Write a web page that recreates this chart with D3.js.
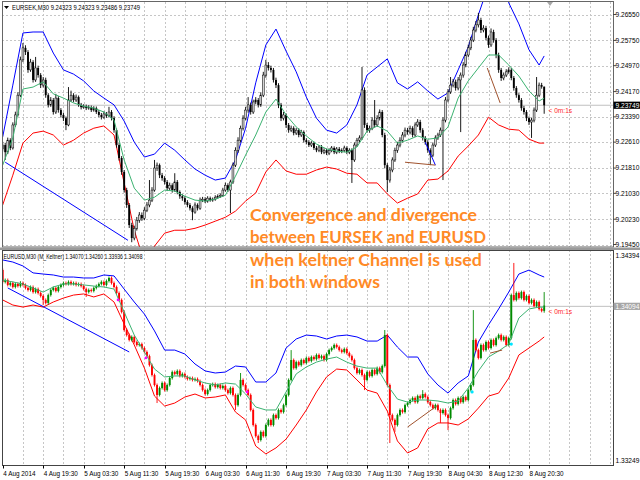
<!DOCTYPE html>
<html>
<head>
<meta charset="utf-8">
<script src="https://cdn.jsdelivr.net/npm/d3@7"></script>
<style>
  html, body { margin: 0; padding: 0; background: #fff; }
  svg { display: block; }
</style>
</head>
<body>
<div id="chart"></div>
<script>
// EURSEK M30 (haut) + EURUSD M30 M_Keltner (bas), canaux de Keltner

const timeLabels = ["4 Aug 2014", "4 Aug 19:30", "5 Aug 03:30", "5 Aug 11:30", "5 Aug 19:30",
  "6 Aug 03:30", "6 Aug 11:30", "6 Aug 19:30", "7 Aug 03:30", "7 Aug 11:30", "7 Aug 19:30",
  "8 Aug 04:30", "8 Aug 12:30", "8 Aug 20:30"]
const barsPerLabel = 16

const sekTicks = [9.26550, 9.25750, 9.24970, 9.24170, 9.23390, 9.22610, 9.21810, 9.21030, 9.20230, 9.19450]
const usdTicks = [1.34394, 1.33249]
const sekLast = 9.23749
const usdLast = 1.34094

const sekHeader = "EURSEK,M30  9.24323 9.24323 9.23486 9.23749"
const usdHeader = "EURUSD,M30 (M_Keltner) 1.34070 1.34260 1.33936 1.34098"
const note = ["Convergence and divergence", "between EURSEK and EURUSD",
  "when keltner Channel is used", "in both windows"]

// EURSEK OHLC (open = clôture précédente)
const sekFirstOpen = 9.2240
const sekClose = [9.2252,9.2230,9.2267,9.2243,9.2314,9.2345,9.2406,9.2515,9.2552,9.2539,
  9.2484,9.2508,9.2453,9.2490,9.2468,9.2437,9.2453,9.2406,9.2376,9.2391,
  9.2354,9.2397,9.2360,9.2345,9.2335,9.2314,9.2391,9.2406,9.2391,9.2400,
  9.2376,9.2369,9.2372,9.2366,9.2369,9.2360,9.2366,9.2354,9.2345,9.2338,
  9.2348,9.2342,9.2354,9.2335,9.2298,9.2252,9.2212,9.2169,9.2113,9.2067,
  9.2005,9.1965,9.1995,9.2020,9.2036,9.2026,9.2051,9.2067,9.2082,9.2113,
  9.2181,9.2190,9.2159,9.2150,9.2138,9.2119,9.2128,9.2113,9.2138,9.2107,
  9.2094,9.2088,9.2076,9.2067,9.2057,9.2045,9.2067,9.2057,9.2082,9.2085,
  9.2079,9.2088,9.2082,9.2085,9.2091,9.2094,9.2097,9.2113,9.2128,9.2113,
  9.2138,9.2190,9.2236,9.2267,9.2304,9.2335,9.2360,9.2376,9.2354,9.2385,
  9.2391,9.2376,9.2406,9.2468,9.2499,9.2490,9.2484,9.2453,9.2437,9.2376,
  9.2335,9.2345,9.2314,9.2298,9.2304,9.2289,9.2298,9.2283,9.2292,9.2267,
  9.2261,9.2252,9.2258,9.2243,9.2236,9.2246,9.2230,9.2236,9.2227,9.2236,
  9.2243,9.2230,9.2240,9.2233,9.2236,9.2243,9.2230,9.2236,9.2206,9.2252,
  9.2267,9.2274,9.2422,9.2314,9.2298,9.2304,9.2329,9.2314,9.2335,9.2354,
  9.2283,9.2190,9.2144,9.2175,9.2206,9.2236,9.2252,9.2267,9.2283,9.2298,
  9.2292,9.2304,9.2283,9.2314,9.2323,9.2298,9.2274,9.2261,9.2236,9.2221,
  9.2252,9.2274,9.2283,9.2298,9.2329,9.2391,9.2416,9.2437,9.2447,9.2428,
  9.2453,9.2468,9.2499,9.2530,9.2552,9.2576,9.2607,9.2623,9.2638,9.2607,
  9.2613,9.2583,9.2561,9.2601,9.2576,9.2530,9.2484,9.2459,9.2468,9.2478,
  9.2484,9.2459,9.2428,9.2406,9.2391,9.2366,9.2354,9.2335,9.2323,9.2329,
  9.2360,9.2406,9.2437,9.24323,9.23749]
const sekHigh = [9.2262,9.2259,9.2275,9.2273,9.2322,9.2355,9.2415,9.2525,9.2567,9.2560,
  9.2545,9.2518,9.2514,9.2524,9.2497,9.2474,9.2462,9.2460,9.2412,9.2400,
  9.2397,9.2410,9.2403,9.2366,9.2352,9.2340,9.2431,9.2420,9.2412,9.2408,
  9.2405,9.2382,9.2378,9.2377,9.2375,9.2374,9.2372,9.2371,9.2360,9.2351,
  9.2356,9.2354,9.2370,9.2360,9.2341,9.2303,9.2258,9.2218,9.2175,9.2120,
  9.2073,9.2012,9.2003,9.2030,9.2045,9.2044,9.2060,9.2076,9.2144,9.2122,
  9.2206,9.2198,9.2195,9.2166,9.2156,9.2144,9.2136,9.2134,9.2165,9.2144,
  9.2112,9.2100,9.2094,9.2082,9.2073,9.2063,9.2075,9.2072,9.2090,9.2092,
  9.2091,9.2094,9.2093,9.2090,9.2097,9.2100,9.2103,9.2120,9.2136,9.2134,
  9.2145,9.2198,9.2245,9.2276,9.2312,9.2344,9.2370,9.2400,9.2383,9.2392,
  9.2400,9.2397,9.2415,9.2478,9.2515,9.2508,9.2497,9.2490,9.2460,9.2443,
  9.2382,9.2354,9.2350,9.2320,9.2312,9.2310,9.2305,9.2304,9.2299,9.2297,
  9.2273,9.2267,9.2264,9.2263,9.2249,9.2252,9.2252,9.2242,9.2241,9.2242,
  9.2249,9.2248,9.2246,9.2246,9.2242,9.2250,9.2248,9.2242,9.2242,9.2260,
  9.2274,9.2282,9.2493,9.2430,9.2320,9.2312,9.2338,9.2391,9.2344,9.2362,
  9.2360,9.2290,9.2196,9.2184,9.2214,9.2244,9.2262,9.2276,9.2292,9.2306,
  9.2305,9.2312,9.2310,9.2322,9.2332,9.2330,9.2304,9.2280,9.2267,9.2242,
  9.2260,9.2282,9.2290,9.2306,9.2338,9.2400,9.2425,9.2462,9.2456,9.2454,
  9.2462,9.2476,9.2508,9.2540,9.2562,9.2586,9.2617,9.2635,9.2660,9.2645,
  9.2622,9.2620,9.2590,9.2612,9.2608,9.2582,9.2537,9.2490,9.2476,9.2486,
  9.2492,9.2490,9.2465,9.2434,9.2412,9.2397,9.2373,9.2360,9.2340,9.2336,
  9.2368,9.2462,9.2445,9.2444,9.24323]
const sekLow = [9.2232,9.2206,9.2224,9.2236,9.2238,9.2308,9.2340,9.2400,9.2508,9.2530,
  9.2475,9.2478,9.2445,9.2447,9.2460,9.2428,9.2430,9.2398,9.2368,9.2370,
  9.2346,9.2348,9.2352,9.2337,9.2326,9.2298,9.2310,9.2385,9.2384,9.2385,
  9.2370,9.2362,9.2364,9.2360,9.2361,9.2354,9.2355,9.2348,9.2338,9.2331,
  9.2333,9.2336,9.2337,9.2328,9.2290,9.2244,9.2204,9.2160,9.2105,9.2058,
  9.1996,9.1952,9.1958,9.1988,9.2012,9.2018,9.2020,9.2045,9.2060,9.2076,
  9.2108,9.2172,9.2150,9.2142,9.2130,9.2110,9.2112,9.2105,9.2108,9.2100,
  9.2086,9.2080,9.2068,9.2060,9.2050,9.2020,9.2040,9.2050,9.2052,9.2076,
  9.2073,9.2074,9.2077,9.2077,9.2080,9.2086,9.2089,9.2092,9.2108,9.2107,
  9.2042,9.2132,9.2184,9.2228,9.2260,9.2297,9.2328,9.2352,9.2346,9.2348,
  9.2378,9.2368,9.2370,9.2400,9.2460,9.2482,9.2476,9.2445,9.2428,9.2366,
  9.2326,9.2328,9.2305,9.2290,9.2292,9.2282,9.2283,9.2276,9.2277,9.2260,
  9.2254,9.2246,9.2246,9.2237,9.2230,9.2230,9.2224,9.2224,9.2221,9.2221,
  9.2230,9.2224,9.2224,9.2227,9.2227,9.2230,9.2224,9.2224,9.2135,9.2200,
  9.2246,9.2260,9.2268,9.2305,9.2290,9.2290,9.2298,9.2306,9.2308,9.2328,
  9.2276,9.2180,9.2107,9.2136,9.2168,9.2200,9.2228,9.2245,9.2260,9.2276,
  9.2284,9.2285,9.2276,9.2277,9.2308,9.2290,9.2266,9.2253,9.2228,9.2190,
  9.2215,9.2246,9.2268,9.2277,9.2144,9.2322,9.2384,9.2410,9.2430,9.2420,
  9.2421,9.2292,9.2460,9.2492,9.2523,9.2545,9.2570,9.2600,9.2615,9.2598,
  9.2600,9.2575,9.2552,9.2555,9.2568,9.2520,9.2475,9.2450,9.2452,9.2462,
  9.2472,9.2452,9.2420,9.2398,9.2383,9.2358,9.2346,9.2326,9.2314,9.2274,
  9.2322,9.2354,9.2400,9.2426,9.23486]

// EURUSD OHLC
const usdFirstOpen = 1.34288
const usdClose = [1.34224,1.34234,1.34208,1.34218,1.34197,1.34213,1.34202,1.34218,1.34208,1.34192,
  1.34181,1.34197,1.34170,1.34186,1.34165,1.34149,1.34128,1.34112,1.34154,1.34181,
  1.34192,1.34176,1.34197,1.34208,1.34218,1.34213,1.34224,1.34213,1.34218,1.34208,
  1.34213,1.34202,1.34186,1.34170,1.34181,1.34176,1.34192,1.34202,1.34213,1.34224,
  1.34208,1.34229,1.34245,1.34218,1.34197,1.34165,1.34128,1.34064,1.33968,1.33941,
  1.33915,1.33931,1.33904,1.33888,1.33893,1.33872,1.33851,1.33829,1.33781,1.33728,
  1.33675,1.33622,1.33659,1.33686,1.33648,1.33675,1.33712,1.33744,1.33734,1.33750,
  1.33723,1.33734,1.33718,1.33707,1.33712,1.33702,1.33707,1.33696,1.33675,1.33648,
  1.33627,1.33648,1.33675,1.33680,1.33664,1.33675,1.33659,1.33670,1.33648,1.33632,
  1.33659,1.33622,1.33568,1.33622,1.33702,1.33675,1.33648,1.33622,1.33542,1.33462,
  1.33403,1.33382,1.33425,1.33403,1.33462,1.33489,1.33462,1.33515,1.33499,1.33542,
  1.33531,1.33568,1.33622,1.33702,1.33808,1.33765,1.33797,1.33781,1.33808,1.33792,
  1.33819,1.33803,1.33824,1.33813,1.33835,1.33819,1.33829,1.33808,1.33840,1.33861,
  1.33872,1.33888,1.33877,1.33861,1.33851,1.33867,1.33845,1.33829,1.33808,1.33765,
  1.33739,1.33755,1.33728,1.33702,1.33744,1.33723,1.33755,1.33734,1.33765,1.33744,
  1.33776,1.33941,1.33675,1.33515,1.33489,1.33462,1.33515,1.33542,1.33531,1.33568,
  1.33579,1.33595,1.33606,1.33584,1.33616,1.33606,1.33627,1.33611,1.33584,1.33568,
  1.33552,1.33568,1.33542,1.33526,1.33542,1.33515,1.33499,1.33552,1.33595,1.33574,
  1.33606,1.33584,1.33611,1.33595,1.33648,1.33675,1.33915,1.33861,1.33819,1.33888,
  1.33861,1.33904,1.33872,1.33915,1.33888,1.33925,1.33941,1.33915,1.33931,1.33888,
  1.33925,1.34154,1.34128,1.34165,1.34138,1.34170,1.34128,1.34149,1.34112,1.34128,
  1.34096,1.34117,1.34080,1.34070,1.34098]
const usdHigh = [1.34296,1.34242,1.34242,1.34226,1.34226,1.34221,1.34221,1.34228,1.34226,1.34216,
  1.34200,1.34205,1.34205,1.34194,1.34194,1.34173,1.34157,1.34136,1.34162,1.34189,
  1.34200,1.34200,1.34205,1.34216,1.34226,1.34226,1.34232,1.34232,1.34226,1.34226,
  1.34221,1.34221,1.34210,1.34194,1.34189,1.34189,1.34200,1.34210,1.34221,1.34232,
  1.34232,1.34237,1.34253,1.34253,1.34226,1.34205,1.34173,1.34136,1.34072,1.33976,
  1.33949,1.33939,1.33939,1.33912,1.33901,1.33901,1.33880,1.33859,1.33837,1.33789,
  1.33736,1.33683,1.33667,1.33694,1.33694,1.33683,1.33720,1.33752,1.33752,1.33758,
  1.33758,1.33742,1.33742,1.33726,1.33720,1.33720,1.33715,1.33715,1.33704,1.33683,
  1.33656,1.33656,1.33683,1.33688,1.33688,1.33683,1.33683,1.33678,1.33678,1.33656,
  1.33667,1.33667,1.33630,1.33630,1.33739,1.33710,1.33683,1.33656,1.33630,1.33550,
  1.33470,1.33411,1.33433,1.33433,1.33470,1.33497,1.33497,1.33523,1.33523,1.33550,
  1.33550,1.33576,1.33630,1.33710,1.33861,1.33816,1.33805,1.33805,1.33816,1.33816,
  1.33827,1.33827,1.33832,1.33832,1.33843,1.33843,1.33837,1.33837,1.33848,1.33869,
  1.33880,1.33896,1.33896,1.33885,1.33869,1.33875,1.33875,1.33853,1.33837,1.33816,
  1.33773,1.33763,1.33763,1.33736,1.33752,1.33752,1.33763,1.33763,1.33773,1.33773,
  1.33784,1.33968,1.33949,1.33683,1.33523,1.33497,1.33523,1.33550,1.33550,1.33576,
  1.33587,1.33603,1.33614,1.33614,1.33624,1.33624,1.33648,1.33635,1.33619,1.33592,
  1.33576,1.33576,1.33576,1.33550,1.33550,1.33550,1.33523,1.33560,1.33603,1.33603,
  1.33614,1.33614,1.33619,1.33619,1.33656,1.33683,1.34074,1.33923,1.33869,1.33896,
  1.33896,1.33912,1.33912,1.33923,1.33923,1.33933,1.33949,1.33949,1.33939,1.33939,
  1.33933,1.34162,1.34325,1.34173,1.34173,1.34178,1.34178,1.34157,1.34157,1.34136,
  1.34136,1.34125,1.34125,1.34088,1.34170]
const usdLow = [1.34216,1.34216,1.34200,1.34200,1.34189,1.34189,1.34194,1.34194,1.34200,1.34184,
  1.34173,1.34173,1.34162,1.34162,1.34157,1.34141,1.34101,1.34104,1.34104,1.34146,
  1.34173,1.34168,1.34168,1.34189,1.34200,1.34205,1.34205,1.34205,1.34205,1.34200,
  1.34200,1.34194,1.34178,1.34144,1.34162,1.34168,1.34168,1.34184,1.34194,1.34205,
  1.34200,1.34200,1.34221,1.34210,1.34189,1.34157,1.34120,1.34056,1.33960,1.33933,
  1.33907,1.33907,1.33896,1.33880,1.33880,1.33864,1.33843,1.33821,1.33773,1.33720,
  1.33667,1.33579,1.33614,1.33651,1.33640,1.33640,1.33667,1.33704,1.33726,1.33726,
  1.33715,1.33715,1.33710,1.33699,1.33699,1.33694,1.33694,1.33688,1.33667,1.33640,
  1.33619,1.33619,1.33640,1.33667,1.33656,1.33656,1.33651,1.33651,1.33640,1.33624,
  1.33624,1.33614,1.33542,1.33560,1.33614,1.33667,1.33640,1.33614,1.33534,1.33454,
  1.33395,1.33366,1.33374,1.33395,1.33395,1.33454,1.33454,1.33454,1.33491,1.33491,
  1.33523,1.33523,1.33560,1.33614,1.33694,1.33757,1.33757,1.33773,1.33773,1.33784,
  1.33784,1.33795,1.33795,1.33805,1.33805,1.33811,1.33811,1.33800,1.33800,1.33832,
  1.33853,1.33864,1.33869,1.33853,1.33843,1.33843,1.33837,1.33821,1.33800,1.33757,
  1.33731,1.33731,1.33720,1.33648,1.33694,1.33715,1.33715,1.33726,1.33726,1.33736,
  1.33736,1.33768,1.33667,1.33366,1.33481,1.33425,1.33454,1.33507,1.33523,1.33523,
  1.33560,1.33571,1.33587,1.33576,1.33576,1.33598,1.33598,1.33603,1.33576,1.33560,
  1.33544,1.33544,1.33534,1.33473,1.33518,1.33507,1.33435,1.33491,1.33544,1.33566,
  1.33566,1.33576,1.33576,1.33587,1.33587,1.33640,1.33667,1.33853,1.33811,1.33811,
  1.33853,1.33853,1.33864,1.33864,1.33880,1.33880,1.33917,1.33907,1.33907,1.33880,
  1.33880,1.33917,1.34120,1.34120,1.34130,1.34130,1.34120,1.34120,1.34104,1.34104,
  1.34088,1.34088,1.34072,1.34062,1.34060]

// Canaux de Keltner, un point toutes les 4 barres (+ dernière barre)
const sekUpper = [9.2277,9.2437,9.2598,9.2601,9.2601,9.2536,9.2484,9.2471,9.2450,9.2419,
  9.2397,9.2376,9.2326,9.2261,9.2215,9.2224,9.2258,9.2236,9.2206,9.2178,
  9.2159,9.2144,9.2150,9.2206,9.2304,9.2444,9.2561,9.2610,9.2542,9.2478,
  9.2400,9.2335,9.2298,9.2289,9.2314,9.2376,9.2468,9.2493,9.2518,9.2444,
  9.2425,9.2447,9.2419,9.2394,9.2413,9.2484,9.2555,9.2654,9.2746,9.2762,
  9.2691,9.2626,9.2546,9.2499,9.2527]
const sekMiddle = [9.2190,9.2274,9.2425,9.2431,9.2447,9.2410,9.2397,9.2382,9.2372,9.2366,
  9.2354,9.2329,9.2206,9.2119,9.2082,9.2091,9.2113,9.2110,9.2094,9.2082,
  9.2079,9.2085,9.2097,9.2156,9.2221,9.2283,9.2354,9.2394,9.2345,9.2308,
  9.2280,9.2255,9.2240,9.2233,9.2230,9.2246,9.2295,9.2311,9.2295,9.2258,
  9.2267,9.2280,9.2270,9.2274,9.2308,9.2397,9.2450,9.2490,9.2530,9.2530,
  9.2499,9.2465,9.2419,9.2388,9.2397]
const sekLower = [9.2067,9.2159,9.2258,9.2289,9.2295,9.2283,9.2252,9.2267,9.2289,9.2304,
  9.2311,9.2283,9.2135,9.1989,9.1890,9.1940,9.1980,9.1989,9.1989,9.1995,
  9.2005,9.2017,9.2029,9.2048,9.2079,9.2104,9.2169,9.2206,9.2172,9.2162,
  9.2162,9.2175,9.2184,9.2178,9.2165,9.2162,9.2135,9.2135,9.2101,9.2073,
  9.2088,9.2101,9.2144,9.2147,9.2172,9.2218,9.2249,9.2283,9.2338,9.2314,
  9.2301,9.2298,9.2270,9.2258,9.2258]
const usdUpper = [1.34341,1.34330,1.34309,1.34272,1.34266,1.34261,1.34250,1.34250,1.34245,1.34245,
  1.34261,1.34256,1.34186,1.34117,1.34053,1.33963,1.33861,1.33861,1.33840,1.33787,
  1.33750,1.33739,1.33744,1.33776,1.33771,1.33691,1.33691,1.33739,1.33872,1.33920,
  1.33941,1.33936,1.33920,1.33936,1.33941,1.33931,1.33909,1.33909,1.33941,1.33877,
  1.33824,1.33824,1.33734,1.33675,1.33632,1.33686,1.33723,1.33904,1.33995,1.34080,
  1.34170,1.34266,1.34287,1.34261,1.34250]
const usdMiddle = [1.34234,1.34224,1.34213,1.34192,1.34170,1.34197,1.34213,1.34213,1.34208,1.34202,
  1.34197,1.34186,1.34064,1.33941,1.33851,1.33760,1.33718,1.33723,1.33723,1.33702,
  1.33686,1.33675,1.33686,1.33680,1.33627,1.33558,1.33542,1.33542,1.33638,1.33734,
  1.33771,1.33797,1.33813,1.33824,1.33797,1.33776,1.33765,1.33765,1.33675,1.33600,
  1.33584,1.33595,1.33595,1.33590,1.33579,1.33590,1.33659,1.33750,1.33824,1.33856,
  1.33893,1.34032,1.34080,1.34090,1.34090]
const usdLower = [1.34128,1.34101,1.34090,1.34101,1.34090,1.34117,1.34138,1.34154,1.34160,1.34144,
  1.34160,1.34117,1.34000,1.33888,1.33765,1.33616,1.33563,1.33579,1.33611,1.33627,
  1.33606,1.33611,1.33622,1.33531,1.33489,1.33350,1.33308,1.33340,1.33387,1.33462,
  1.33542,1.33638,1.33718,1.33760,1.33755,1.33702,1.33648,1.33632,1.33536,1.33377,
  1.33313,1.33340,1.33441,1.33473,1.33473,1.33462,1.33494,1.33552,1.33616,1.33632,
  1.33712,1.33835,1.33872,1.33909,1.33931]

// Objets tracés à la main : [barre, prix]
const sekTrendBlue = [[1, 9.2199], [49.5, 9.1958]]
const sekTrendBlue2 = [[167, 9.2261], [171, 9.2190]]
const sekTrendBrown = [[159, 9.2199], [171, 9.2190]]
const sekTrendBrown2 = [[191.5, 9.2490], [196.6, 9.2382]]
const usdTrendBlue = [[2, 1.34192], [50, 1.33851]]
const usdTrendBrown = [[160, 1.33451], [172, 1.33568]]
const usdTrendBrown2 = [[192.6, 1.33845], [197.4, 1.33861]]
const usdMagentaDots = [[45.6, 1.34128], [56.6, 1.33819], [96.6, 1.33638]]
const usdCyanDots = [[185.5, 1.33638], [201, 1.33893]]

const W = 640, H = 480
const left = 2, right = 613
const topPanel = { y0: 2, y1: 247 }
const botPanel = { y0: 250, y1: 465 }
const smallFont = "'Liberation Sans', Arial, sans-serif"

const bandBars = d3.range(0, 213, 4).concat([214])

const x = d3.scaleLinear().domain([0, 208]).range([2.7, 529])
const ySek = d3.scaleLinear().domain([9.19450, 9.26550]).range([244.5, 14.5])
const yUsd = d3.scaleLinear().domain([1.33249, 1.34394]).range([botPanel.y1, botPanel.y0])

const svg = d3.select("#chart").append("svg")
  .attr("width", W).attr("height", H)
  .attr("viewBox", `0 0 ${W} ${H}`)
  .style("background", "#fff")

const defs = svg.append("defs")
defs.append("clipPath").attr("id", "clipTop").append("rect")
  .attr("x", left).attr("y", topPanel.y0).attr("width", right - left).attr("height", topPanel.y1 - topPanel.y0)
defs.append("clipPath").attr("id", "clipBot").append("rect")
  .attr("x", left).attr("y", botPanel.y0).attr("width", right - left).attr("height", botPanel.y1 - botPanel.y0)

// Grille pointillée
const gridColor = "#c6c6c6"
const vGrid = d3.range(8, 241, 8)
function drawVGrid(p) {
  svg.append("g").selectAll("line").data(vGrid).join("line")
    .attr("x1", (d) => Math.round(x(d)) + 0.5).attr("x2", (d) => Math.round(x(d)) + 0.5)
    .attr("y1", p.y0).attr("y2", p.y1)
    .attr("stroke", gridColor).attr("stroke-dasharray", "2,2")
}
drawVGrid(topPanel)
drawVGrid(botPanel)
svg.append("g").selectAll("line").data(sekTicks).join("line")
  .attr("x1", left).attr("x2", right)
  .attr("y1", (d) => Math.round(ySek(d)) + 0.5).attr("y2", (d) => Math.round(ySek(d)) + 0.5)
  .attr("stroke", gridColor).attr("stroke-dasharray", "2,2")

// Lignes du dernier prix
svg.append("line").attr("x1", left).attr("x2", right)
  .attr("y1", ySek(sekLast)).attr("y2", ySek(sekLast)).attr("stroke", "#c0c0c0")
svg.append("line").attr("x1", left).attr("x2", right)
  .attr("y1", yUsd(usdLast)).attr("y2", yUsd(usdLast)).attr("stroke", "#c0c0c0")

function buildBars(open0, close, high, low) {
  return close.map((c, i) => {
    const o = i === 0 ? open0 : close[i - 1]
    return { i, o, c, h: Math.max(high[i], o, c), l: Math.min(low[i], o, c) }
  })
}

function drawCandles(g, bars, y, style) {
  g.selectAll("line.wick").data(bars).join("line")
    .attr("class", "wick")
    .attr("x1", (d) => x(d.i)).attr("x2", (d) => x(d.i))
    .attr("y1", (d) => y(d.h)).attr("y2", (d) => y(d.l))
    .attr("stroke", (d) => (d.c >= d.o ? style.wickUp : style.wickDown))
    .attr("stroke-width", 0.9)
  g.selectAll("rect.body").data(bars).join("rect")
    .attr("class", "body")
    .attr("x", (d) => x(d.i) - 0.95)
    .attr("width", 1.9)
    .attr("y", (d) => y(Math.max(d.o, d.c)))
    .attr("height", (d) => Math.max(0.8, Math.abs(y(d.o) - y(d.c))))
    .attr("fill", (d) => (d.c >= d.o ? style.up : style.down))
    .attr("stroke", (d) => (d.c >= d.o ? style.upStroke : "none"))
    .attr("stroke-width", 0.5)
}

function drawBand(g, values, y, color) {
  g.append("path")
    .datum(values)
    .attr("fill", "none")
    .attr("stroke", color)
    .attr("stroke-width", 1)
    .attr("d", d3.line().x((d, k) => x(bandBars[k])).y((d) => y(d)))
}

function drawSegment(g, pts, y, color) {
  g.append("path")
    .datum(pts)
    .attr("fill", "none")
    .attr("stroke", color)
    .attr("stroke-width", 1)
    .attr("d", d3.line().x((d) => x(d[0])).y((d) => y(d[1])))
}

// Panneau EURSEK
const gTop = svg.append("g").attr("clip-path", "url(#clipTop)")
drawBand(gTop, sekUpper, ySek, "#0000ff")
drawBand(gTop, sekLower, ySek, "#ff0000")
drawCandles(gTop, buildBars(sekFirstOpen, sekClose, sekHigh, sekLow), ySek,
  { up: "#d4d4d4", upStroke: "#000", down: "#000", wickUp: "#000", wickDown: "#000" })
drawBand(gTop, sekMiddle, ySek, "#3cb371")
drawSegment(gTop, sekTrendBlue, ySek, "#0000ff")
drawSegment(gTop, sekTrendBlue2, ySek, "#0000ff")
drawSegment(gTop, sekTrendBrown, ySek, "#a0522d")
drawSegment(gTop, sekTrendBrown2, ySek, "#a0522d")

// Panneau EURUSD
const gBot = svg.append("g").attr("clip-path", "url(#clipBot)")
drawBand(gBot, usdUpper, yUsd, "#0000ff")
drawBand(gBot, usdLower, yUsd, "#ff0000")
drawCandles(gBot, buildBars(usdFirstOpen, usdClose, usdHigh, usdLow), yUsd,
  { up: "#008a00", upStroke: "none", down: "#ff0000", wickUp: "#008a00", wickDown: "#ff0000" })
drawBand(gBot, usdMiddle, yUsd, "#3cb371")
drawSegment(gBot, usdTrendBlue, yUsd, "#0000ff")
drawSegment(gBot, usdTrendBrown, yUsd, "#a0522d")
drawSegment(gBot, usdTrendBrown2, yUsd, "#a0522d")
gBot.selectAll("circle.mag").data(usdMagentaDots).join("circle")
  .attr("class", "mag").attr("cx", (d) => x(d[0])).attr("cy", (d) => yUsd(d[1]))
  .attr("r", 1.4).attr("fill", "#ff00ff")
gBot.selectAll("circle.cya").data(usdCyanDots).join("circle")
  .attr("class", "cya").attr("cx", (d) => x(d[0])).attr("cy", (d) => yUsd(d[1]))
  .attr("r", 1.6).attr("fill", "#00e5ff")

// Cadres
svg.append("rect").attr("x", left + 0.5).attr("y", topPanel.y0 - 0.5)
  .attr("width", right - left).attr("height", topPanel.y1 - topPanel.y0 + 0.5)
  .attr("fill", "none").attr("stroke", "#666")
svg.append("rect").attr("x", 0).attr("y", topPanel.y1 + 0.5).attr("width", W).attr("height", 2.5)
  .attr("fill", "#9a9a9a")
svg.append("rect").attr("x", left + 0.5).attr("y", botPanel.y0 + 0.5)
  .attr("width", right - left).attr("height", botPanel.y1 - botPanel.y0)
  .attr("fill", "none").attr("stroke", "#444")

// Marqueur de décalage du graphique
svg.append("path").attr("d", "M547,2 L553,2 L550,6 Z").attr("fill", "#a8a8a8")

// Axe des prix EURSEK
svg.append("g").selectAll("line").data(sekTicks).join("line")
  .attr("x1", right).attr("x2", right + 3)
  .attr("y1", (d) => ySek(d)).attr("y2", (d) => ySek(d)).attr("stroke", "#444")
svg.append("g").selectAll("text").data(sekTicks).join("text")
  .attr("x", right + 2.5).attr("y", (d) => ySek(d) + 2.3)
  .attr("font-family", smallFont).attr("font-size", 6.6).attr("fill", "#000")
  .text((d) => d3.format(".5f")(d))
svg.append("rect").attr("x", right + 0.5).attr("y", ySek(sekLast) - 3.6)
  .attr("width", W - right).attr("height", 7.2).attr("fill", "#000")
svg.append("text").attr("x", right + 2.5).attr("y", ySek(sekLast) + 2.3)
  .attr("font-family", smallFont).attr("font-size", 6.6).attr("fill", "#fff")
  .text(d3.format(".5f")(sekLast))

// Axe des prix EURUSD (min/max de la sous-fenêtre)
svg.append("text").attr("x", right + 2.5).attr("y", yUsd(usdTicks[0]) + 7.5)
  .attr("font-family", smallFont).attr("font-size", 6.6).attr("fill", "#000")
  .text(d3.format(".5f")(usdTicks[0]))
svg.append("text").attr("x", right + 2.5).attr("y", yUsd(usdTicks[1]) - 2)
  .attr("font-family", smallFont).attr("font-size", 6.6).attr("fill", "#000")
  .text(d3.format(".5f")(usdTicks[1]))
svg.append("rect").attr("x", right + 0.5).attr("y", yUsd(usdLast) - 3.6)
  .attr("width", W - right).attr("height", 7.2).attr("fill", "#a6a6a6")
svg.append("text").attr("x", right + 2.5).attr("y", yUsd(usdLast) + 2.3)
  .attr("font-family", smallFont).attr("font-size", 6.6).attr("fill", "#fff")
  .text(d3.format(".5f")(usdLast))

// Compte à rebours
svg.append("text").attr("x", 548.5).attr("y", ySek(sekLast) + 7.5)
  .attr("font-family", smallFont).attr("font-size", 6.6).attr("fill", "#ff2a2a").text("< 0m:1s")
svg.append("text").attr("x", 548.5).attr("y", yUsd(usdLast) + 7.5)
  .attr("font-family", smallFont).attr("font-size", 6.6).attr("fill", "#ff2a2a").text("< 0m:1s")

// Axe du temps
const timeTicks = timeLabels.map((t, k) => ({ t, bar: k * barsPerLabel }))
svg.append("g").selectAll("line").data(timeTicks).join("line")
  .attr("x1", (d) => Math.round(x(d.bar)) + 0.5).attr("x2", (d) => Math.round(x(d.bar)) + 0.5)
  .attr("y1", botPanel.y1 + 0.5).attr("y2", botPanel.y1 + 3.5).attr("stroke", "#000")
svg.append("g").selectAll("text").data(timeTicks).join("text")
  .attr("x", (d) => x(d.bar) + 0.5).attr("y", 476)
  .attr("font-family", smallFont).attr("font-size", 6.4).attr("fill", "#000")
  .text((d) => d.t)

// En-têtes
svg.append("path").attr("d", "M4,6 L9,6 L6.5,9 Z").attr("fill", "#000")
svg.append("text").attr("x", 12).attr("y", 10)
  .attr("font-family", smallFont).attr("font-size", 6.8).attr("fill", "#000")
  .attr("textLength", 128).attr("lengthAdjust", "spacingAndGlyphs")
  .text(sekHeader)
svg.append("text").attr("x", 3.5).attr("y", 258.5)
  .attr("font-family", smallFont).attr("font-size", 6.8).attr("fill", "#000")
  .attr("textLength", 139).attr("lengthAdjust", "spacingAndGlyphs")
  .text(usdHeader)

// Annotation
const noteWidths = [227, 236, 232, 130]
const noteBase = [221, 243, 266, 288]
svg.append("g").selectAll("text").data(note).join("text")
  .attr("x", 250).attr("y", (d, k) => noteBase[k])
  .attr("font-family", "Lato, 'Open Sans', sans-serif")
  .attr("font-weight", 700).attr("font-size", 17.5)
  .attr("fill", "#ff8a26")
  .attr("textLength", (d, k) => noteWidths[k]).attr("lengthAdjust", "spacingAndGlyphs")
  .text((d) => d)
</script>
</body>
</html>
